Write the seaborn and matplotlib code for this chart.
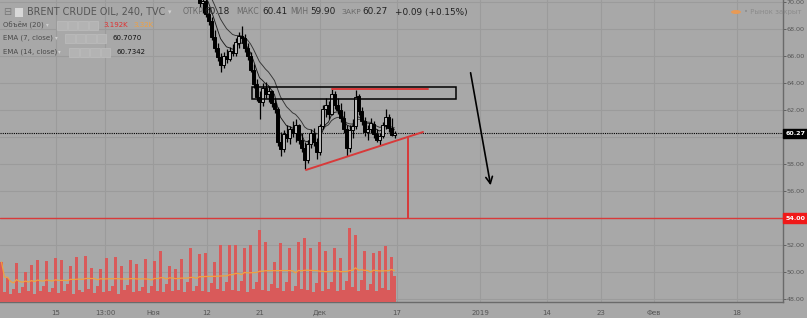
import numpy as np
import pandas as pd
import matplotlib
matplotlib.use("Agg")
import matplotlib.pyplot as plt
from matplotlib.patches import Rectangle, Circle
import seaborn as sns

# ---------------- data ----------------
first_candle_slot = 62
opens = [73.0, 72.2, 71.5, 71.2, 70.5, 69.9, 70.1, 69.1, 68.6, 67.4, 66.6, 65.9, 65.3, 66.0, 65.8, 66.4,
         66.2, 67.0, 67.5, 67.3, 66.6, 66.0, 65.0, 63.9, 63.0, 62.6, 63.6, 63.2, 63.4, 62.5, 62.1, 59.6,
         59.1, 60.2, 59.9, 60.6, 60.3, 60.9, 59.8, 59.2, 58.3, 59.5, 60.3, 59.6, 58.9, 60.8, 62.1, 62.4,
         61.7, 63.2, 62.4, 62.0, 61.4, 60.6, 59.2, 60.5, 60.8, 63.0, 61.9, 61.2, 60.4, 60.6, 61.0, 60.2,
         59.8, 60.1, 60.9, 61.5, 60.7, 60.18]
highs = [73.4, 72.6, 71.9, 71.8, 70.9, 70.3, 70.2, 69.6, 68.9, 67.9, 67.0, 66.2, 66.3, 66.5, 66.7, 66.9,
         67.3, 67.8, 68.2, 67.6, 67.0, 66.3, 65.4, 64.3, 63.4, 64.0, 64.1, 63.8, 63.5, 62.9, 62.2, 60.4,
         60.5, 60.9, 60.8, 61.2, 61.3, 61.0, 60.3, 59.6, 59.8, 60.6, 60.7, 59.9, 61.0, 62.4, 62.9, 62.7,
         63.6, 63.4, 62.9, 62.5, 61.9, 60.9, 60.9, 61.3, 63.5, 63.2, 62.2, 61.5, 60.9, 61.4, 61.2, 60.6,
         60.3, 61.1, 62.1, 61.7, 61.4, 60.41]
lows = [71.8, 71.0, 70.8, 70.3, 69.6, 69.2, 68.9, 68.3, 67.2, 66.3, 65.6, 64.8, 65.1, 65.5, 65.6, 66.0,
        66.0, 66.6, 67.0, 66.3, 65.7, 64.8, 63.6, 62.7, 61.3, 62.3, 62.9, 62.6, 62.2, 61.8, 59.3, 58.6,
        58.9, 59.6, 59.5, 60.0, 59.6, 59.5, 58.9, 57.6, 58.1, 59.2, 59.3, 58.4, 58.7, 60.6, 61.5, 61.3,
        61.6, 62.1, 61.7, 61.1, 60.3, 58.6, 58.9, 59.9, 60.6, 61.6, 60.9, 60.1, 59.8, 60.3, 59.9, 59.6,
        59.4, 59.9, 60.6, 60.4, 60.1, 59.90]
closes = [72.2, 71.5, 71.2, 70.5, 69.9, 70.1, 69.1, 68.6, 67.4, 66.6, 65.9, 65.3, 66.0, 65.8, 66.4, 66.2,
          67.0, 67.5, 67.3, 66.6, 66.0, 65.0, 63.9, 63.0, 62.6, 63.6, 63.2, 63.4, 62.5, 62.1, 59.6, 59.1,
          60.2, 59.9, 60.6, 60.3, 60.9, 59.8, 59.2, 58.3, 59.5, 60.3, 59.6, 58.9, 60.8, 62.1, 62.4, 61.7,
          63.2, 62.4, 62.0, 61.4, 60.6, 59.2, 60.5, 60.8, 63.0, 61.9, 61.2, 60.4, 60.6, 61.0, 60.2, 59.8,
          60.1, 60.9, 61.5, 60.7, 60.18, 60.27]
volume_k = [4.9, 1.2, 3.0, 1.0, 1.6, 4.8, 1.1, 1.8, 3.7, 1.3, 4.5, 1.0, 5.1, 1.4, 2.0, 5.0, 1.2, 1.7, 5.4, 1.1,
            5.1, 1.3, 2.2, 4.4, 1.0, 5.5, 1.5, 1.2, 5.6, 1.6, 4.2, 1.1, 2.0, 4.0, 1.2, 5.4, 1.4, 1.9, 5.5, 1.0,
            4.4, 1.5, 2.1, 5.1, 1.2, 4.6, 1.3, 1.8, 5.3, 1.1, 2.0, 5.0, 1.4, 6.3, 1.2, 2.2, 4.4, 1.3, 4.0, 1.5,
            5.3, 1.2, 2.4, 6.6, 1.3, 2.0, 5.9, 1.4, 6.0, 1.2, 2.3, 4.9, 1.6, 7.0, 1.3, 2.5, 7.0, 1.5, 7.0, 1.4,
            2.6, 6.6, 1.2, 7.0, 1.6, 2.4, 8.8, 1.5, 7.3, 1.3, 2.2, 4.9, 1.7, 7.2, 1.4, 2.5, 6.6, 1.3, 2.0, 7.3,
            1.6, 7.8, 1.5, 6.6, 1.2, 2.3, 7.3, 1.4, 6.3, 1.6, 2.4, 6.6, 1.3, 5.4, 1.5, 2.6, 9.1, 1.8, 8.2, 1.4,
            2.7, 6.3, 1.5, 2.2, 6.0, 1.4, 6.3, 1.7, 6.8, 1.5, 5.5, 3.19]

price_ticks = [48, 50, 52, 54, 56, 58, 60, 62, 64, 66, 68, 70]
time_tick_pos = [18.2, 34.5, 50.5, 68.5, 86.2, 106.2, 131.8, 159.5, 181.8, 199.8, 217.5, 245.2]
time_tick_labels = ["15", "13:00", "Ноя", "12", "21", "Дек", "17", "2019", "14", "23", "Фев", "18"]

# drawings made on the chart
box_x = [83.5, 151.5]
box_p = [62.81, 63.70]
resist_x = [110.2, 142.2]
resist_p = 63.56
trend_x = [101.5, 140.5]
trend_p = [57.56, 60.37]
drop_x = 135.5
drop_p = [60.0, 54.0]
arrow_x = [156.2, 163.2]
arrow_p = [64.96, 56.22]
target_price = 54.0
last_price = 60.27

# ---------------- style ----------------
BG = "#a8a8a8"
GRID = "#9b9b9b"
TXT = "#555555"
RED = "#d83a3a"
VOLRED = "#d95a5a"
ORANGE = "#f0a040"

sns.set_theme(style="white")
plt.rcParams["font.family"] = ["DejaVu Sans"]

W, H = 807, 318
fig = plt.figure(figsize=(W / 100, H / 100), dpi=100)
fig.patch.set_facecolor(BG)
ax = fig.add_axes([0, 1 - 302 / H, 783 / W, 302 / H])
ax.set_facecolor(BG)
ax.set_xlim(-0.5, 260.5)
ax.set_ylim(70 - 300 / 13.5, 70 + 2 / 13.5)

# volume pane (twin axis, created first so the price axis keeps its right-side ticks)
axv = ax.twinx()
axv.set_ylim(0, 37)
axv.set_xlim(-0.5, 260.5)
vx = np.arange(len(volume_k))
axv.bar(vx, volume_k, width=0.8, color=VOLRED, linewidth=0, zorder=2)
vma = pd.Series(volume_k).rolling(20, min_periods=1).mean()
sns.lineplot(x=vx, y=vma.values, ax=axv, color=ORANGE, lw=0.9, zorder=3)
axv.set_yticks([])
axv.tick_params(axis="y", length=0, labelright=False, labelleft=False, right=False, left=False)
for s in axv.spines.values():
    s.set_visible(False)
axv.set_ylabel("")

# grid
for t in time_tick_pos:
    ax.axvline(t, color=GRID, lw=0.8, zorder=0)
for p in price_ticks:
    ax.axhline(p, color=GRID, lw=0.8, zorder=0)

# candles
n = len(closes)
cx = np.arange(first_candle_slot, first_candle_slot + n)
o = np.array(opens); h = np.array(highs); l = np.array(lows); c = np.array(closes)
ax.vlines(cx, l, h, color="black", lw=0.9, zorder=3)
up = c >= o
bottom = np.minimum(o, c)
height = np.maximum(np.abs(c - o), 0.05)
ax.bar(cx[up], height[up], bottom=bottom[up], width=0.72, color="#b8b8b8",
       edgecolor="black", linewidth=0.7, zorder=4)
ax.bar(cx[~up], height[~up], bottom=bottom[~up], width=0.72, color="black",
       edgecolor="black", linewidth=0.7, zorder=4)

# EMAs
cs = pd.Series(closes)
ema7 = cs.ewm(span=7, adjust=False).mean()
ema14 = cs.ewm(span=14, adjust=False).mean()
sns.lineplot(x=cx, y=ema7.values, ax=ax, color="#1a1a1a", lw=0.65, zorder=2)
sns.lineplot(x=cx, y=ema14.values, ax=ax, color="#333333", lw=0.65, zorder=2)

# drawings
ax.add_patch(Rectangle((box_x[0], box_p[0]), box_x[1] - box_x[0], box_p[1] - box_p[0],
                       fill=False, edgecolor="black", lw=1.1, zorder=5))
ax.plot(resist_x, [resist_p, resist_p], color=RED, lw=1.4, zorder=6)
ax.plot(trend_x, trend_p, color=RED, lw=1.4, zorder=6)
ax.plot([drop_x, drop_x], drop_p, color=RED, lw=1.4, zorder=6)
ax.axhline(target_price, color=RED, lw=1.0, zorder=6)
ax.axhline(last_price, color="black", lw=0.8, ls=(0, (1, 1)), zorder=1)
ax.annotate("", xy=(arrow_x[1], arrow_p[1]), xytext=(arrow_x[0], arrow_p[0]),
            arrowprops=dict(arrowstyle="->", color="black", lw=1.2, mutation_scale=12), zorder=6)

# axes styling
for s in ["top", "left"]:
    ax.spines[s].set_visible(False)
for s in ["right", "bottom"]:
    ax.spines[s].set_color("#6a6a6a")
    ax.spines[s].set_linewidth(1.0)
ax.set_yticks(price_ticks)
ax.set_yticklabels(["" if p == target_price else f"{p:.2f}" for p in price_ticks])
ax.yaxis.tick_right()
ax.yaxis.set_label_position("right")
ax.set_xticks(time_tick_pos)
ax.set_xticklabels(time_tick_labels)
ax.tick_params(axis="y", colors=TXT, labelsize=4.6, length=2, width=0.6, pad=0.8, direction="out",
               right=True, left=False, labelright=True, labelleft=False)
ax.tick_params(axis="x", colors=TXT, labelsize=5, length=3, width=0.6, pad=2.5, direction="out")
ax.set_xlabel(""); ax.set_ylabel("")

# price labels on axis
ytr = ax.get_yaxis_transform()
ax.text(1.003, last_price, "60.27", transform=ytr, ha="left", va="center", fontsize=4.6,
        color="white", fontweight="bold", clip_on=False, zorder=10,
        bbox=dict(boxstyle="square,pad=0.35", fc="black", ec="black"))
ax.text(1.003, target_price, "54.00", transform=ytr, ha="left", va="center", fontsize=4.6,
        color="white", fontweight="bold", clip_on=False, zorder=10,
        bbox=dict(boxstyle="square,pad=0.35", fc="#f01818", ec="#f01818"))


# header texts (figure pixel coordinates)
def ftext(x, y, s, size, color, weight="normal", ha="left"):
    fig.text(x / W, 1 - y / H, s, fontsize=size, color=color, ha=ha, va="center",
             fontweight=weight)


ftext(3, 12, "⊟", 7, "#777777")
fig.patches.append(Rectangle((15 / W, 1 - 17 / H), 8 / W, 9 / H, transform=fig.transFigure,
                             fc="#d8d8d8", ec="none"))
ftext(27, 12, "BRENT CRUDE OIL, 240, TVC", 6.9, "#555555")
ftext(168, 12, "▾", 5, "#d0d0d0")
ftext(183, 12, "ОТКР", 5.6, "#6a6a6a")
ftext(204, 12, "60.18", 6.4, "#222222")
ftext(236, 12, "МАКС", 5.6, "#6a6a6a")
ftext(262, 12, "60.41", 6.4, "#222222")
ftext(290, 12, "МИН", 5.5, "#6a6a6a")
ftext(310, 12, "59.90", 6.4, "#222222")
ftext(341, 12, "ЗАКР", 5.4, "#6a6a6a")
ftext(362, 12, "60.27", 6.4, "#222222")
ftext(395, 12, "+0.09 (+0.15%)", 6.4, "#222222")

ftext(3, 25, "Объём (20)", 5, "#4a4a4a")
ftext(46, 25, "▾", 4, "#d0d0d0")
ftext(103, 25, "3.192K", 5, "#e03030")
ftext(133, 25, "3.32K", 5, "#f0a040")
ftext(3, 38, "EMA (7, close)", 5, "#4a4a4a")
ftext(55, 38, "▾", 4, "#d0d0d0")
ftext(112, 38, "60.7070", 5, "#111111")
ftext(3, 52, "EMA (14, close)", 5, "#4a4a4a")
ftext(58, 52, "▾", 4, "#d0d0d0")
ftext(116, 52, "60.7342", 5, "#111111")
for x0, yc in [(57, 25), (65, 38), (69, 52)]:
    for k in range(4):
        fig.patches.append(Rectangle(((x0 + k * 10.5) / W, 1 - (yc + 4.5) / H), 9.5 / W, 9 / H,
                                     transform=fig.transFigure, fc="#b3b3b3", ec="#bdbdbd", lw=0.5))

fig.patches.append(Circle((736 / W, 1 - 12 / H), 5 / W, transform=fig.transFigure,
                          fc="#e89a55", ec="none"))
ftext(744, 12, "• Рынок закрыт", 5, "#8c8c8c")

fig.savefig("out.png", dpi=100, facecolor=BG)
